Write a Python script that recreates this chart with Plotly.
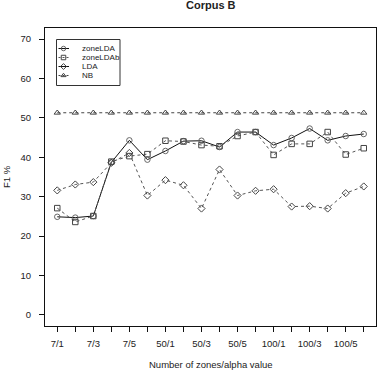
import plotly.graph_objects as go

# ---- data ----
zones = ["7", "50", "100"]
alphas = ["1", "2", "3", "4", "5", "6"]
categories = [f"{z}/{a}" for z in zones for a in alphas]
tick_labels = [c if i % 2 == 0 else "" for i, c in enumerate(categories)]

zoneLDA = [24.9, 24.7, 25.1, 38.7, 44.3, 39.4, 41.6, 44.1, 44.2, 42.6,
           46.4, 46.4, 43.1, 44.9, 47.3, 44.3, 45.4, 45.9]
zoneLDAb = [27.1, 23.6, 25.1, 38.9, 40.3, 40.8, 44.2, 44.0, 43.1, 42.8,
            45.4, 46.4, 40.6, 43.4, 43.4, 46.4, 40.7, 42.3]
LDA = [31.6, 33.1, 33.7, 38.6, 41.1, 30.3, 34.2, 32.9, 27.0, 36.9,
       30.3, 31.5, 31.9, 27.5, 27.6, 27.0, 30.9, 32.6]
NB = [51.3] * 18

series_names = ["zoneLDA", "zoneLDAb", "LDA", "NB"]

# ---- styles ----
FONT = "Liberation Sans, Arial, sans-serif"
TXT = "#222222"
DASH = "3px,3px"
styles = {
    "zoneLDA": dict(symbol="circle-open", dash="solid", color="#111111", mcolor="#666666"),
    "zoneLDAb": dict(symbol="square-open", dash=DASH, color="#555555", mcolor="#444444"),
    "LDA": dict(symbol="diamond-open", dash=DASH, color="#555555", mcolor="#444444"),
    "NB": dict(symbol="triangle-up-open", dash=DASH, color="#444444", mcolor="#444444"),
}
legend_line_dash = {"zoneLDA": "solid", "zoneLDAb": DASH, "LDA": "solid", "NB": DASH}

W, H = 381, 370
ML, MR, MT, MB = 45, 5, 28, 44
x0px, x1px = ML, W - MR
y0px, y1px = MT, H - MB

fig = go.Figure()
data = {"zoneLDA": zoneLDA, "zoneLDAb": zoneLDAb, "LDA": LDA, "NB": NB}
xs = list(range(len(categories)))
for name in series_names:
    s = styles[name]
    fig.add_trace(go.Scatter(
        x=xs, y=data[name], mode="lines+markers", name=name, showlegend=False,
        line=dict(color=s["color"], width=1, dash=s["dash"]),
        marker=dict(symbol=s["symbol"], size=5.5, color=s["mcolor"],
                    line=dict(width=1, color=s["mcolor"])),
    ))

# ---- manual legend on a pixel overlay axis ----
leg_x0, leg_x1, leg_y0, leg_y1 = 56.5, 120, 39.5, 85.5
row_y = [48.5, 57.5, 66.5, 75.5]
for name, ry in zip(series_names, row_y):
    s = styles[name]
    fig.add_trace(go.Scatter(
        x=[58.5, 69], y=[ry, ry], mode="lines", xaxis="x2", yaxis="y2", showlegend=False,
        line=dict(color=s["color"] if name != "LDA" else "#111111", width=1,
                  dash="2px,2px" if legend_line_dash[name] != "solid" else "solid"),
        hoverinfo="skip"))
    fig.add_trace(go.Scatter(
        x=[63.5], y=[ry], mode="markers", xaxis="x2", yaxis="y2", showlegend=False,
        marker=dict(symbol=s["symbol"], size=4.5, color=s["mcolor"],
                    line=dict(width=1, color=s["mcolor"])), hoverinfo="skip"))
    fig.add_annotation(x=79.5, y=ry, xref="x2", yref="y2", text=name, showarrow=False,
                       xanchor="left", yanchor="middle",
                       font=dict(family=FONT, size=8, color=TXT))
fig.add_shape(type="rect", xref="x2", yref="y2", x0=leg_x0, x1=leg_x1,
              y0=leg_y0, y1=leg_y1, line=dict(color="#333333", width=1))

fig.update_layout(
    width=W, height=H,
    margin=dict(l=ML, r=MR, t=MT, b=MB, pad=0),
    paper_bgcolor="white", plot_bgcolor="white",
    font=dict(family=FONT, color=TXT),
    xaxis=dict(
        range=[-0.68, len(categories) - 1 + 0.68],
        tickmode="array", tickvals=xs, ticktext=tick_labels,
        showgrid=False, zeroline=False, showline=True, mirror=True,
        linecolor="#111111", linewidth=1,
        ticks="outside", ticklen=5, tickcolor="#111111",
        tickfont=dict(family=FONT, size=9.5, color=TXT),
        ticklabelstandoff=4,
    ),
    yaxis=dict(
        range=[-2.8, 72.8], tickmode="array", tickvals=[0, 10, 20, 30, 40, 50, 60, 70],
        showgrid=False, zeroline=False, showline=True, mirror=True,
        linecolor="#111111", linewidth=1,
        ticks="outside", ticklen=5, tickcolor="#111111",
        tickfont=dict(family=FONT, size=9.5, color=TXT),
        ticklabelstandoff=6,
    ),
    xaxis2=dict(range=[x0px, x1px], overlaying="x", visible=False, fixedrange=True),
    yaxis2=dict(range=[y1px, y0px], overlaying="y", visible=False, fixedrange=True),
    showlegend=False,
)

# titles
fig.add_annotation(text="<b>Corpus B</b>", xref="paper", yref="paper",
                   x=0.5, y=(y1px - 5.5) / (y1px - y0px), showarrow=False,
                   xanchor="center", yanchor="middle",
                   font=dict(family=FONT, size=11, color=TXT))
fig.add_annotation(text="Number of zones/alpha value", xref="paper", yref="paper",
                   x=0.5, y=(y1px - 364) / (y1px - y0px), showarrow=False,
                   xanchor="center", yanchor="middle",
                   font=dict(family=FONT, size=9.5, color=TXT))
fig.add_annotation(text="F1 %", xref="paper", yref="paper",
                   x=(6 - x0px) / (x1px - x0px), y=0.5, showarrow=False,
                   textangle=-90, xanchor="center", yanchor="middle",
                   font=dict(family=FONT, size=9.5, color=TXT))

fig.write_html("out.html")
